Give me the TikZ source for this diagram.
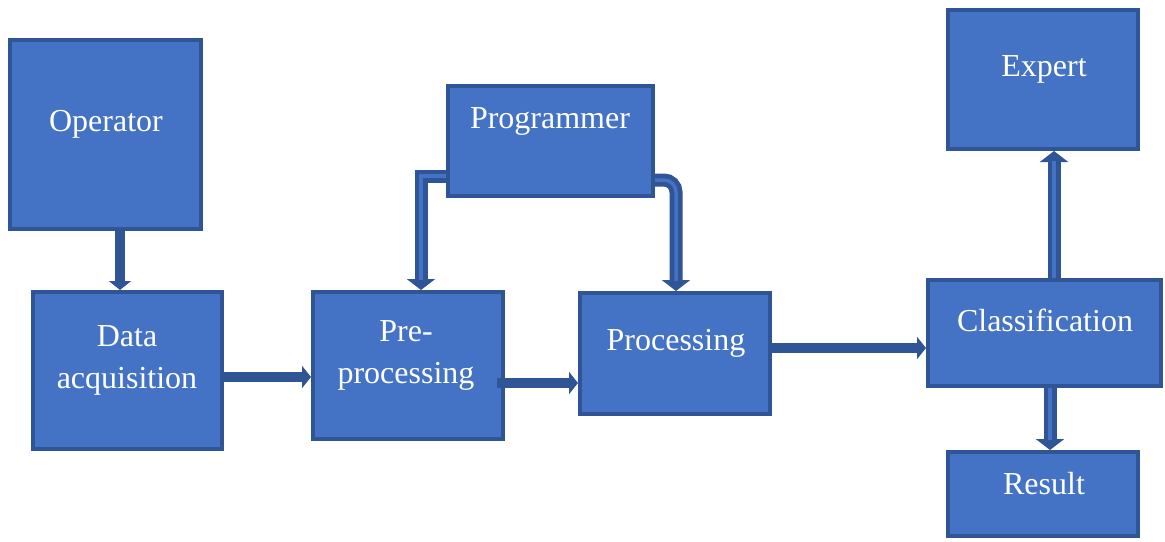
\documentclass[tikz,border=0pt]{standalone}
\usepackage{fontspec}
\setmainfont{Liberation Serif}
\usetikzlibrary{arrows.meta}
\definecolor{boxfill}{HTML}{4472C4}
\definecolor{boxline}{HTML}{2F5597}
\begin{document}
\begin{tikzpicture}[x=1pt,y=-1pt,
  box/.style={draw=boxline, fill=boxfill, line width=4pt, inner sep=0pt},
  lbl/.style={text=white, font=\fontsize{32}{42}\selectfont, align=center, inner sep=0pt},
  flow/.style={draw=boxline, line width=10pt, -{Triangle[width=22pt,length=9pt]}},
  pipe/.style={draw=boxline, line width=13pt, line join=miter, -{Triangle[width=28pt,length=11pt]}},
  core/.style={draw=boxfill, line width=3.5pt, shorten >=10pt}]
\useasboundingbox (0,0) rectangle (1165,541);

% blocks
\node[box, minimum width=191pt, minimum height=189pt] (op)   at (105.5,134.5) {};
\node[box, minimum width=189pt, minimum height=157pt] (data) at (127.5,370.5) {};
\node[box, minimum width=190pt, minimum height=147pt] (pre)  at (408,365.5) {};
\node[box, minimum width=205pt, minimum height=110pt] (prog) at (550.5,141) {};
\node[box, minimum width=190pt, minimum height=121pt] (proc) at (675,353.5) {};
\node[box, minimum width=233pt, minimum height=106pt] (cls)  at (1044.5,333) {};
\node[box, minimum width=190pt, minimum height=139pt] (exp)  at (1043,79.5) {};
\node[box, minimum width=190pt, minimum height=84pt]  (res)  at (1043,494) {};

% captions
\node[lbl] (opT)   at (106,124)  {Operator};
\node[lbl] (dataT) at (127,360)  {Data\\acquisition};
\node[lbl] (preT)  at (406,355.5) {Pre-\\processing};
\node[lbl] (progT) at (550,121)  {Programmer};
\node[lbl] (procT) at (676,343)  {Processing};
\node[lbl] (clsT)  at (1045,320) {Classification};
\node[lbl] (expT)  at (1044,69)  {Expert};
\node[lbl] (resT)  at (1044,484) {Result};

% plain connectors
\draw[flow] ([xshift=14.5pt]op.south) -- ([xshift=-7.5pt]data.north);
\draw[flow] ([yshift=-6.5pt]data.east) -- ([yshift=-11.5pt]pre.west);
\draw[flow] ([xshift=-8pt,yshift=-17.5pt]pre.east) -- ([yshift=-29.5pt]proc.west);
\draw[flow] ([yshift=5.5pt]proc.east) -- ([yshift=-15pt]cls.west);

% outlined connectors
\draw[pipe] ([yshift=-35pt]prog.west) -| ([xshift=13pt]pre.north);
\draw[core] ([yshift=-35pt]prog.west) -| ([xshift=13pt]pre.north);
\draw[pipe, rounded corners=12pt] ([yshift=-39pt]prog.east) -| ([xshift=1pt]proc.north);
\draw[core, rounded corners=12pt] ([yshift=-39pt]prog.east) -| ([xshift=1pt]proc.north);
\draw[pipe] ([xshift=9.5pt]cls.north) -- ([xshift=11pt]exp.south);
\draw[core] ([xshift=9.5pt]cls.north) -- ([xshift=11pt]exp.south);
\draw[pipe] ([xshift=5.5pt]cls.south) -- ([xshift=7pt]res.north);
\draw[core] ([xshift=5.5pt]cls.south) -- ([xshift=7pt]res.north);
\end{tikzpicture}
\end{document}
